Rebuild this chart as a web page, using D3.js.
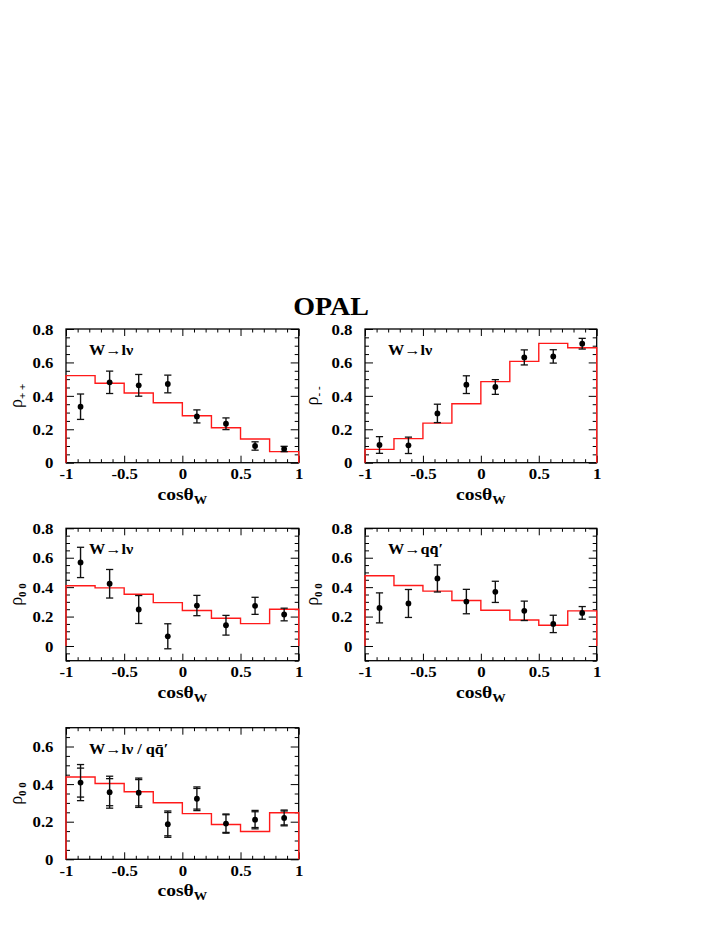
<!DOCTYPE html>
<html><head><meta charset="utf-8">
<script src="https://cdn.jsdelivr.net/npm/d3@7"></script>
<style>body{margin:0;background:#fff}svg{display:block}</style>
</head><body>
<svg id="c" width="716" height="926"></svg>
<script>
// ---- data ----
const binEdges = [-1, -0.75, -0.5, -0.25, 0, 0.25, 0.5, 0.75, 1];
const binCenters = [-0.875, -0.625, -0.375, -0.125, 0.125, 0.375, 0.625, 0.875];

const ppLnuVal = [0.335, 0.481, 0.463, 0.471, 0.277, 0.233, 0.100, 0.082];
const ppLnuErr = [0.076, 0.067, 0.065, 0.053, 0.039, 0.035, 0.025, 0.016];
const ppLnuMC  = [0.521, 0.475, 0.417, 0.359, 0.281, 0.209, 0.142, 0.066];

const mmLnuVal = [0.106, 0.104, 0.295, 0.467, 0.453, 0.630, 0.636, 0.712];
const mmLnuErr = [0.050, 0.049, 0.055, 0.053, 0.044, 0.045, 0.040, 0.032];
const mmLnuMC  = [0.080, 0.144, 0.237, 0.353, 0.485, 0.606, 0.714, 0.688];

const zzLnuVal = [0.568, 0.423, 0.248, 0.066, 0.275, 0.141, 0.273, 0.214];
const zzLnuErr = [0.103, 0.097, 0.095, 0.085, 0.069, 0.067, 0.058, 0.043];
const zzLnuMC  = [0.409, 0.395, 0.352, 0.295, 0.241, 0.189, 0.152, 0.250];

const zzQqVal = [0.259, 0.289, 0.459, 0.302, 0.368, 0.239, 0.150, 0.225];
const zzQqErr = [0.102, 0.095, 0.092, 0.083, 0.072, 0.066, 0.059, 0.043];
const zzQqMC  = [0.477, 0.411, 0.373, 0.309, 0.243, 0.177, 0.141, 0.239];

const zzCombVal  = [0.408, 0.357, 0.354, 0.187, 0.322, 0.190, 0.211, 0.220];
const zzCombStat = [0.077, 0.072, 0.070, 0.062, 0.055, 0.047, 0.042, 0.037];
const zzCombTot  = [0.096, 0.085, 0.078, 0.070, 0.063, 0.051, 0.049, 0.042];
const zzCombMC   = [0.438, 0.403, 0.359, 0.301, 0.243, 0.185, 0.148, 0.248];

const xTickLabels = ["-1", "-0.5", "0", "0.5", "1"];
const yTickLabels08 = ["0", "0.2", "0.4", "0.6", "0.8"];
const yTickLabels06 = ["0", "0.2", "0.4", "0.6"];

// ---- layout ----
const FONT = "'Liberation Serif','Times New Roman',serif";
const SX = 1.12; // horizontal stretch of the reference lettering
const svg = d3.select("#c");

const panels = [
  {l:66,  r:298.7, t:329,   b:462.7, ymin:0,    ymax:0.8, yt:yTickLabels08, val:ppLnuVal, err:ppLnuErr, mc:ppLnuMC, label:"W→lν", ysym:"ρ", ysub:"+ +", ytx:22},
  {l:365, r:596.7, t:329,   b:462.7, ymin:0,    ymax:0.8, yt:yTickLabels08, val:mmLnuVal, err:mmLnuErr, mc:mmLnuMC, label:"W→lν", ysym:"ρ", ysub:"- -", ytx:318},
  {l:66,  r:298.7, t:528.3, b:660.7, ymin:-0.1, ymax:0.8, yt:yTickLabels08, val:zzLnuVal, err:zzLnuErr, mc:zzLnuMC, label:"W→lν", ysym:"ρ", ysub:"0 0", ytx:22},
  {l:365, r:596.7, t:528.3, b:660.7, ymin:-0.1, ymax:0.8, yt:yTickLabels08, val:zzQqVal, err:zzQqErr, mc:zzQqMC, label:"W→qq\u0304\u2032", ysym:"ρ", ysub:"0 0", ytx:318},
  {l:66,  r:298.7, t:727.7, b:859.3, ymin:0,    ymax:0.7, yt:yTickLabels06, val:zzCombVal, err:zzCombTot, stat:zzCombStat, mc:zzCombMC, label:"W→lν / qq\u0304\u2032", ysym:"ρ", ysub:"0 0", ytx:22}
];

// title
svg.append("text").attr("transform", `translate(331,315) scale(${SX},1)`)
  .attr("text-anchor", "middle").attr("font-family", FONT).attr("font-weight", "bold")
  .attr("font-size", 25).text("OPAL");

panels.forEach(p => {
  const g = svg.append("g");
  const x = d3.scaleLinear().domain([-1, 1]).range([p.l, p.r]);
  const y = d3.scaleLinear().domain([p.ymin, p.ymax]).range([p.b, p.t]);

  const xMajor = xTickLabels.map(Number);
  const xMinor = d3.range(-10, 11).map(i => i / 10).filter(v => !xMajor.some(m => Math.abs(m - v) < 1e-9));
  const yMajor = p.yt.map(Number);
  const yMinor = d3.range(Math.round(p.ymin / 0.05), Math.round(p.ymax / 0.05) + 1).map(i => +(i * 0.05).toFixed(3))
    .filter(v => !yMajor.some(m => Math.abs(m - v) < 1e-9));

  const styleAxis = sel => { sel.select(".domain").remove(); sel.selectAll("line").attr("stroke", "#000").attr("stroke-width", 1); };

  // bottom
  const gb = g.append("g").attr("transform", `translate(0,${p.b})`)
    .call(d3.axisBottom(x).tickValues(xMajor).tickSize(-7).tickFormat((d, i) => xTickLabels[i]));
  styleAxis(gb);
  gb.selectAll("text").attr("y", null).attr("dy", null)
    .attr("transform", `translate(0,16.5) scale(${SX},1)`)
    .attr("font-family", FONT).attr("font-weight", "bold").attr("font-size", 15).attr("fill", "#000");
  g.append("g").attr("transform", `translate(0,${p.b})`)
    .call(d3.axisBottom(x).tickValues(xMinor).tickSize(-3.5).tickFormat("")).call(styleAxis);
  // top
  g.append("g").attr("transform", `translate(0,${p.t})`)
    .call(d3.axisTop(x).tickValues(xMajor).tickSize(-7).tickFormat("")).call(styleAxis);
  g.append("g").attr("transform", `translate(0,${p.t})`)
    .call(d3.axisTop(x).tickValues(xMinor).tickSize(-3.5).tickFormat("")).call(styleAxis);
  // left
  const gl = g.append("g").attr("transform", `translate(${p.l},0)`)
    .call(d3.axisLeft(y).tickValues(yMajor).tickSize(-8).tickFormat((d, i) => p.yt[i]));
  styleAxis(gl);
  gl.selectAll("text").attr("x", null).attr("dy", null)
    .attr("transform", `translate(-12.5,5.2) scale(${SX},1)`).attr("text-anchor", "end")
    .attr("font-family", FONT).attr("font-weight", "bold").attr("font-size", 15).attr("fill", "#000");
  g.append("g").attr("transform", `translate(${p.l},0)`)
    .call(d3.axisLeft(y).tickValues(yMinor).tickSize(-4).tickFormat("")).call(styleAxis);
  // right
  g.append("g").attr("transform", `translate(${p.r},0)`)
    .call(d3.axisRight(y).tickValues(yMajor).tickSize(-8).tickFormat("")).call(styleAxis);
  g.append("g").attr("transform", `translate(${p.r},0)`)
    .call(d3.axisRight(y).tickValues(yMinor).tickSize(-4).tickFormat("")).call(styleAxis);

  // frame
  g.append("rect").attr("x", p.l).attr("y", p.t).attr("width", p.r - p.l).attr("height", p.b - p.t)
    .attr("fill", "none").attr("stroke", "#000").attr("stroke-width", 1.3);

  // MC histogram (step)
  const pts = [[binEdges[0], 0]];
  p.mc.forEach((v, i) => { pts.push([binEdges[i], v]); pts.push([binEdges[i + 1], v]); });
  pts.push([binEdges[binEdges.length - 1], 0]);
  g.append("path").attr("d", d3.line().x(d => x(d[0])).y(d => y(d[1]))(pts))
    .attr("fill", "none").attr("stroke", "#ff1a1a").attr("stroke-width", 1.4);

  // data points with error bars
  const cap = 3.6;
  p.val.forEach((v, i) => {
    const cx = x(binCenters[i]);
    const e = p.err[i];
    g.append("line").attr("x1", cx).attr("x2", cx).attr("y1", y(v - e)).attr("y2", y(v + e))
      .attr("stroke", "#111").attr("stroke-width", 1.4);
    const caps = [v - e, v + e];
    if (p.stat) caps.push(v - p.stat[i], v + p.stat[i]);
    caps.forEach(c => g.append("line").attr("x1", cx - cap).attr("x2", cx + cap).attr("y1", y(c)).attr("y2", y(c))
      .attr("stroke", "#111").attr("stroke-width", 1.3));
    g.append("circle").attr("cx", cx).attr("cy", y(v)).attr("r", 2.9).attr("fill", "#000");
  });

  // channel label
  g.append("text").attr("transform", `translate(${p.l + 23},${p.t + 26}) scale(${SX},1)`)
    .attr("font-family", FONT).attr("font-weight", "bold").attr("font-size", 14.5).text(p.label);

  // x title
  const xt = g.append("text").attr("transform", `translate(${(p.l + p.r) / 2},${p.b + 37}) scale(${SX},1)`)
    .attr("text-anchor", "middle").attr("font-family", FONT).attr("font-weight", "bold").attr("font-size", 17.5);
  xt.append("tspan").text("cosθ");
  xt.append("tspan").attr("dy", 4).attr("font-size", 12).text("W");

  // y title
  const yt = g.append("text").attr("transform", `translate(${p.ytx},${(p.t + p.b) / 2}) rotate(-90)`)
    .attr("text-anchor", "middle").attr("font-family", FONT).attr("font-size", 18);
  yt.append("tspan").text(p.ysym);
  yt.append("tspan").attr("dy", 4).attr("font-size", 11).attr("font-weight", "bold").text(p.ysub);
});
</script>
</body></html>
